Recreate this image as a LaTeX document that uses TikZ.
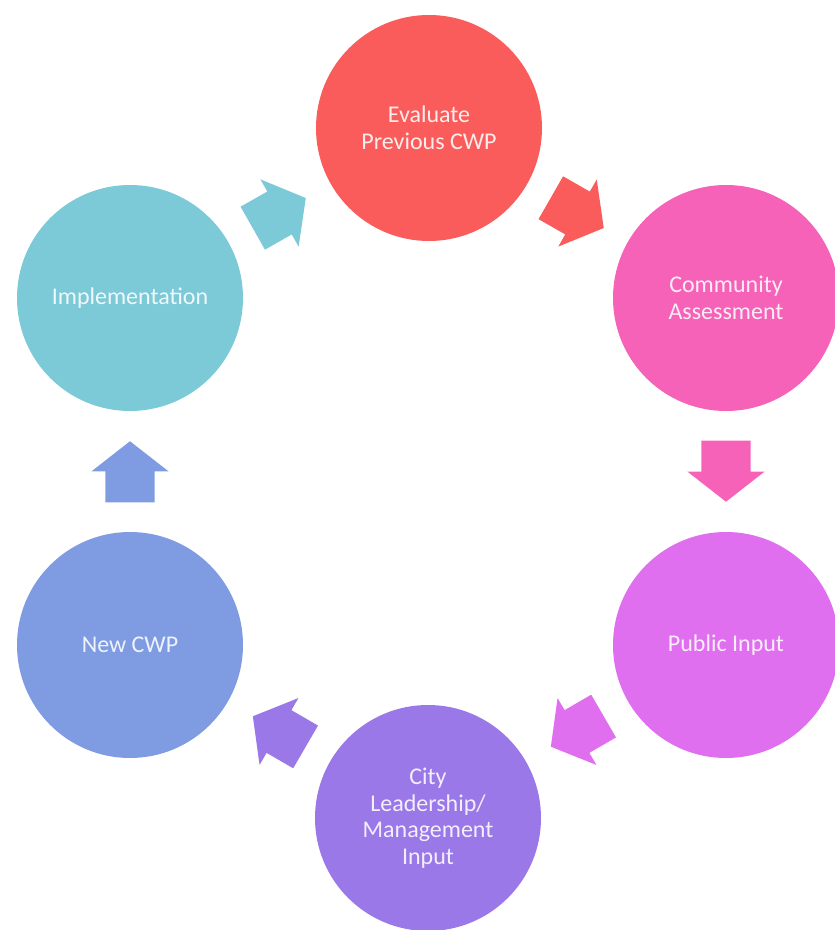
\documentclass[tikz,border=0pt]{standalone}
\usepackage{fontspec}
\setmainfont{Carlito}
\usetikzlibrary{shapes.arrows,calc}
\definecolor{cred}{HTML}{FA5C5C}
\definecolor{cpink}{HTML}{F662B8}
\definecolor{cmag}{HTML}{DF6FEE}
\definecolor{cpurple}{HTML}{9A78E8}
\definecolor{cblue}{HTML}{7F9BE2}
\definecolor{cteal}{HTML}{7CC9D7}
\tikzset{
  stagecircle/.style={circle, minimum size=226pt, inner sep=0pt, align=center,
    text=white, text opacity=0.88, font=\fontsize{24}{26.5}\selectfont},
  blockarrow/.style={single arrow, minimum height=61pt, minimum width=0pt,
    single arrow head extend=14pt, single arrow tip angle=104, inner sep=0pt}
}
\begin{document}
\begin{tikzpicture}[x=1pt,y=1pt]
\useasboundingbox (0,0) rectangle (835,930);
\node[stagecircle, fill=cred] (E) at (429,802) {Evaluate\\Previous CWP};
\node[stagecircle, fill=cpink] (C) at (726,632) {Community\\Assessment};
\node[stagecircle, fill=cmag] (P) at (726,285) {Public Input};
\node[stagecircle, fill=cpurple] (L) at (428,112) {City\\Leadership/\\Management\\Input};
\node[stagecircle, fill=cblue] (N) at (130,285) {New CWP};
\node[stagecircle, fill=cteal] (I) at (130,632) {Implementation};
\foreach \sa/\sb/\col/\nm in {I/E/cteal/a1, E/C/cred/a2, C/P/cpink/a3, P/L/cmag/a4, L/N/cpurple/a5, N/I/cblue/a6}{
  \coordinate (m\nm) at ($(\sa)!0.5!(\sb)$);
  \path let \p1=($(\sb)-(\sa)$), \n1={atan2(\y1,\x1)} in
    node[blockarrow, fill=\col, rotate=\n1, anchor=tip] (\nm) at ($(m\nm)!30.5pt!(\sb)$) {\rule{0pt}{49pt}};
}
\end{tikzpicture}
\end{document}
